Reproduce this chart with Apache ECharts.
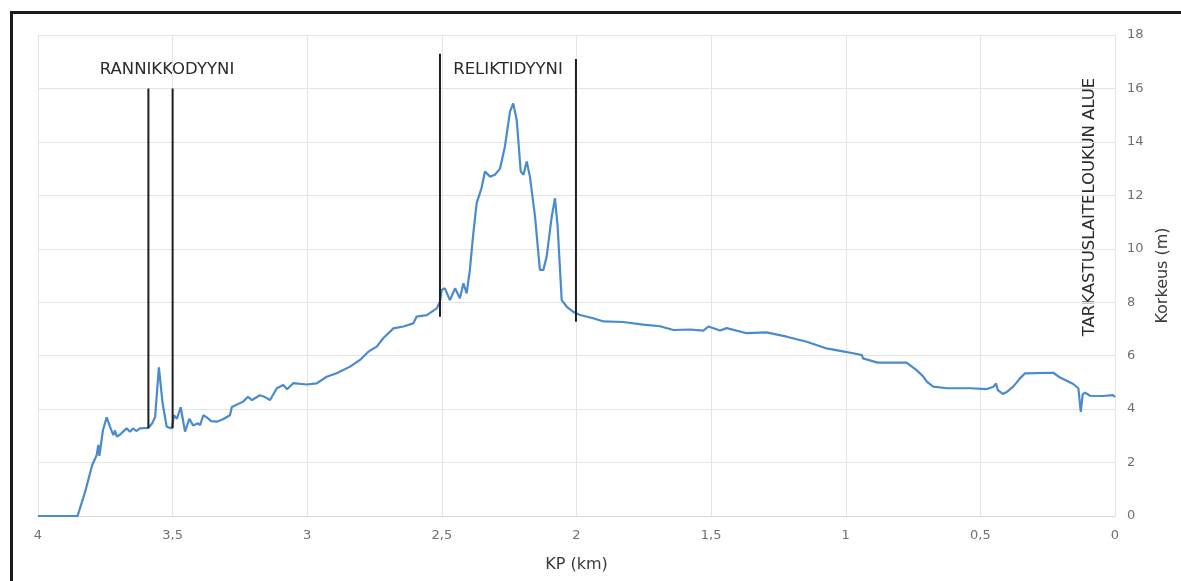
<!DOCTYPE html>
<html>
<head>
<meta charset="utf-8">
<script src="https://cdn.jsdelivr.net/npm/echarts@6/dist/echarts.min.js"></script>
<style>
html,body{margin:0;padding:0;background:#fff;}
#chart{width:1181px;height:581px;}
</style>
</head>
<body>
<div id="chart"></div>
<script>
// Profile: KP (km) and elevation (m)
const kp = [4.000,3.853,3.825,3.799,3.782,3.776,3.772,3.759,3.745,3.733,3.725,3.720,3.714,3.707,3.695,3.671,3.658,3.647,3.635,3.621,3.590,3.577,3.565,3.551,3.537,3.522,3.503,3.495,3.484,3.470,3.454,3.438,3.424,3.406,3.398,3.386,3.372,3.357,3.336,3.313,3.287,3.280,3.238,3.220,3.205,3.176,3.157,3.138,3.113,3.089,3.075,3.052,3.002,2.965,2.928,2.891,2.841,2.804,2.773,2.742,2.718,2.680,2.643,2.606,2.594,2.556,2.519,2.507,2.501,2.489,2.470,2.451,2.433,2.420,2.408,2.396,2.384,2.371,2.352,2.340,2.321,2.303,2.284,2.266,2.247,2.235,2.222,2.207,2.197,2.185,2.173,2.154,2.136,2.123,2.111,2.092,2.080,2.070,2.055,2.036,2.012,1.987,1.938,1.900,1.826,1.752,1.690,1.640,1.579,1.529,1.510,1.467,1.442,1.368,1.294,1.219,1.145,1.071,1.021,0.972,0.940,0.936,0.882,0.774,0.737,0.712,0.699,0.675,0.625,0.538,0.476,0.451,0.442,0.435,0.417,0.405,0.378,0.353,0.334,0.229,0.204,0.155,0.136,0.127,0.120,0.111,0.093,0.044,0.007,0.000];
const height = [0,0,0.9,1.9,2.28,2.66,2.25,3.2,3.69,3.35,3.15,3.03,3.2,2.97,3.05,3.28,3.15,3.28,3.18,3.28,3.3,3.45,3.7,5.56,4.2,3.34,3.28,3.77,3.64,4.07,3.16,3.64,3.39,3.47,3.4,3.77,3.68,3.55,3.53,3.62,3.77,4.08,4.28,4.46,4.34,4.52,4.45,4.34,4.78,4.9,4.74,4.97,4.92,4.96,5.21,5.34,5.59,5.84,6.15,6.34,6.65,7.02,7.09,7.21,7.46,7.52,7.77,8.02,8.46,8.52,8.08,8.52,8.15,8.71,8.33,9.21,10.5,11.7,12.3,12.89,12.7,12.77,13.0,13.82,15.13,15.44,14.82,12.89,12.77,13.27,12.7,11.2,9.21,9.21,9.7,11.2,11.89,10.83,8.08,7.83,7.64,7.52,7.4,7.28,7.26,7.16,7.1,6.96,6.98,6.94,7.09,6.94,7.03,6.84,6.87,6.71,6.52,6.27,6.18,6.09,6.02,5.9,5.74,5.74,5.46,5.22,5.03,4.84,4.78,4.78,4.75,4.84,4.96,4.71,4.57,4.62,4.84,5.15,5.34,5.36,5.18,4.94,4.78,3.9,4.55,4.62,4.5,4.49,4.52,4.45];

// Dune boundary markers
const markerKp = [3.59, 3.50, 2.507, 2.002];
const markerLow = [3.28, 3.28, 7.46, 7.27];
const markerHigh = [16.0, 16.0, 17.3, 17.1];

// Axis ticks
const xMin = 0, xMax = 4, xStep = 0.5;
const yMin = 0, yMax = 18, yStep = 2;

const xAxisTitle = 'KP (km)';
const yAxisTitle = 'Korkeus (m)';
const duneLabels = ['RANNIKKODYYNI', 'RELIKTIDYYNI'];
const areaLabel = 'TARKASTUSLAITELOUKUN ALUE';

const FONT = '"DejaVu Sans", Verdana, sans-serif';

const profile = kp.map((k, i) => [k, height[i]]);
const markerSeries = markerKp.map((k, i) => ({
  type: 'line',
  data: [[k, markerLow[i]], [k, markerHigh[i]]],
  showSymbol: false,
  silent: true,
  z: 3,
  lineStyle: { color: '#1f1f1f', width: 2 }
}));

const chart = echarts.init(document.getElementById('chart'), null, { renderer: 'canvas' });
chart.setOption({
  backgroundColor: '#ffffff',
  animation: false,
  textStyle: { fontFamily: FONT },
  grid: { left: 38, right: 66, top: 35, bottom: 65, containLabel: false },
  xAxis: {
    type: 'value', min: xMin, max: xMax, interval: xStep, inverse: true,
    axisLine: { show: true, lineStyle: { color: '#d6d6d6', width: 1 } },
    axisTick: { show: false },
    splitLine: { show: true, lineStyle: { color: '#e4e4e4', width: 1 } },
    axisLabel: { color: '#707070', fontSize: 13, margin: 13, fontFamily: FONT,
      formatter: v => String(v).replace('.', ',') },
    name: xAxisTitle, nameLocation: 'middle', nameGap: 41,
    nameTextStyle: { color: '#3a3a3a', fontSize: 16, fontFamily: FONT }
  },
  yAxis: {
    type: 'value', position: 'right', min: yMin, max: yMax, interval: yStep,
    axisLine: { show: false }, axisTick: { show: false },
    splitLine: { show: true, lineStyle: { color: '#e4e4e4', width: 1 } },
    axisLabel: { color: '#707070', fontSize: 13, margin: 12, fontFamily: FONT },
    name: yAxisTitle, nameLocation: 'middle', nameGap: 40, nameRotate: 90,
    nameTextStyle: { color: '#3a3a3a', fontSize: 16, fontFamily: FONT }
  },
  series: [{
    type: 'line', data: profile, showSymbol: false, z: 2,
    lineStyle: { color: '#4a8bcd', width: 2.2 }
  }].concat(markerSeries),
  graphic: [
    { type: 'rect', left: 9, top: 10, shape: { width: 1200, height: 600 },
      style: { fill: 'none', stroke: '#1a1a1a', lineWidth: 3 }, silent: true },
    { type: 'text', x: 167, y: 70, style: { text: duneLabels[0], fill: '#2b2b2b', font: '16.5px ' + FONT, textAlign: 'center', textVerticalAlign: 'middle' } },
    { type: 'text', x: 508, y: 70, style: { text: duneLabels[1], fill: '#2b2b2b', font: '16.5px ' + FONT, textAlign: 'center', textVerticalAlign: 'middle' } },
    { type: 'text', x: 1090, y: 207, rotation: Math.PI / 2, style: { text: areaLabel, fill: '#2b2b2b', font: '16.5px ' + FONT, textAlign: 'center', textVerticalAlign: 'middle' } }
  ]
});
</script>
</body>
</html>
